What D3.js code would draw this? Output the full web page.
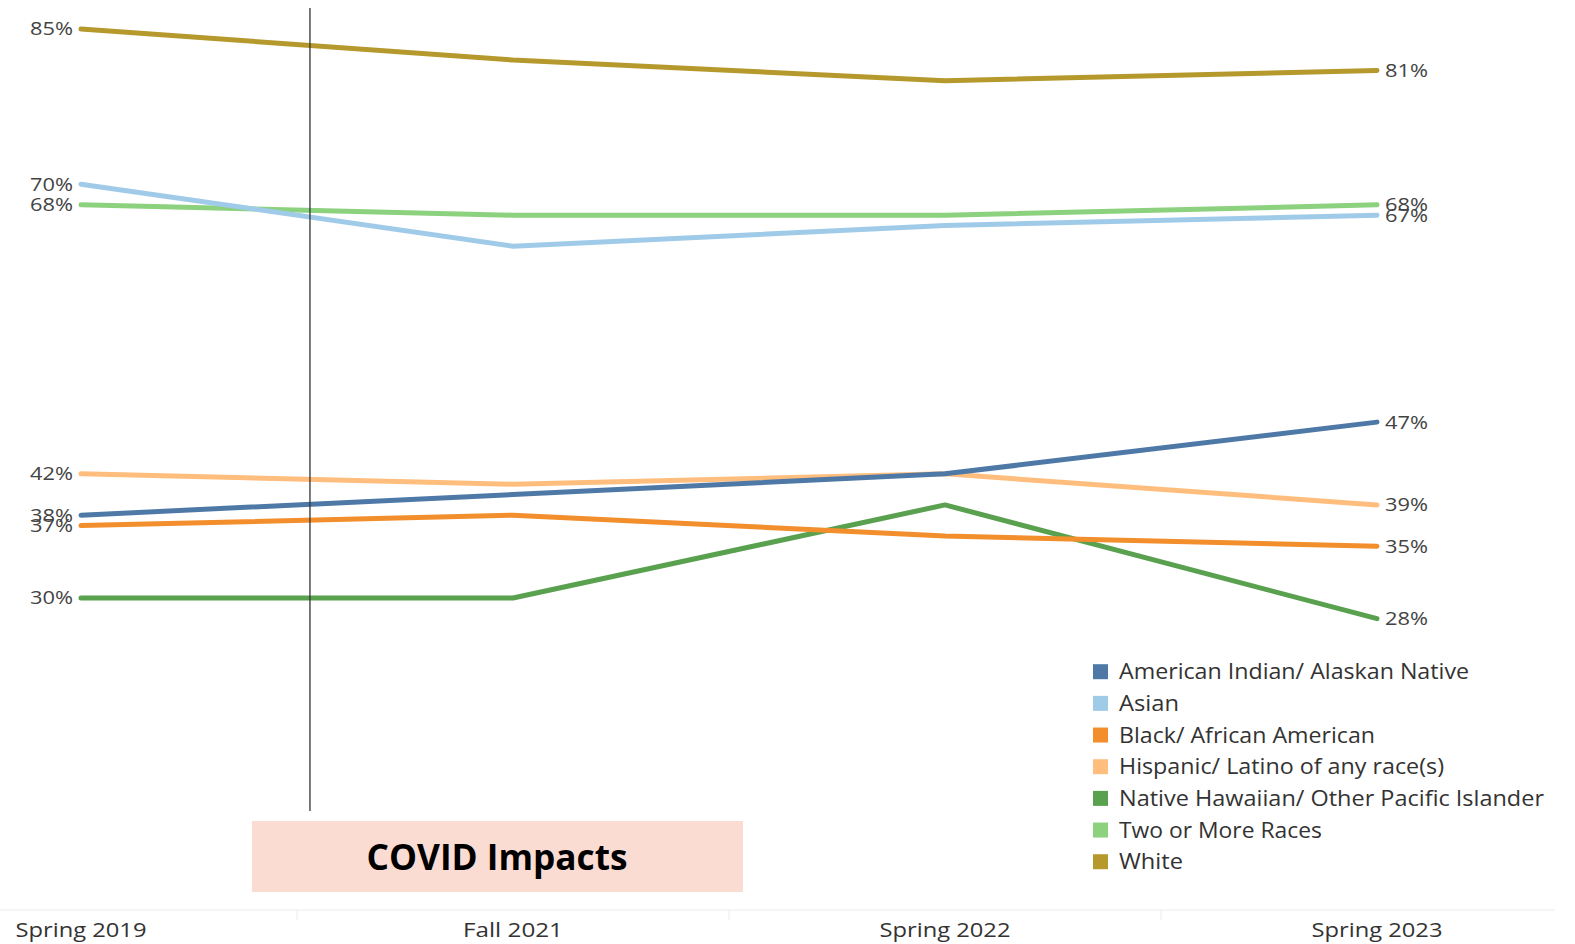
<!DOCTYPE html>
<html><head><meta charset="utf-8">
<script src="https://cdn.jsdelivr.net/npm/d3@7"></script>
<style>body{margin:0;background:#fff;}svg{display:block;}</style>
</head><body>
<svg id="c" width="1575" height="944"></svg>
<script>
const periods = ["Spring 2019", "Fall 2021", "Spring 2022", "Spring 2023"];
const seriesNames = ["American Indian/ Alaskan Native", "Asian", "Black/ African American", "Hispanic/ Latino of any race(s)", "Native Hawaiian/ Other Pacific Islander", "Two or More Races", "White"];
const amIndian = [38, 40, 42, 47];
const asian = [70, 64, 66, 67];
const black = [37, 38, 36, 35];
const hispanic = [42, 41, 42, 39];
const nhpi = [30, 30, 39, 28];
const twoMore = [68, 67, 67, 68];
const white = [85, 82, 80, 81];
const seriesValues = [amIndian, asian, black, hispanic, nhpi, twoMore, white];
const colors = ["#4e79a7", "#a0cbe8", "#f28e2b", "#ffbe7d", "#59a14f", "#8cd17d", "#b6992d"];
const covidLabel = "COVID Impacts";
const covidPeriodPos = 0.53; // position between Spring 2019 and Fall 2021

const svg = d3.select("#c");
const x = d3.scalePoint().domain(periods).range([81, 1377]);
const y = d3.scaleLinear().domain([85, 30]).range([29, 598]);
const step = x.step();

// bottom axis line & separators
svg.append("line").attr("x1", 0).attr("x2", 1555).attr("y1", 910).attr("y2", 910)
  .attr("stroke", "#ececec").attr("stroke-width", 1);
periods.slice(1).forEach(p => {
  const xs = x(p) - step / 2;
  svg.append("line").attr("x1", xs).attr("x2", xs).attr("y1", 910).attr("y2", 920)
    .attr("stroke", "#ececec").attr("stroke-width", 1);
});
const axisWidths = [131, 100, 131, 131];
svg.append("g").selectAll("text").data(periods).join("text")
  .attr("x", d => x(d)).attr("y", 937).attr("text-anchor", "middle")
  .attr("font-family", "'Open Sans', sans-serif").attr("font-size", 20)
  .attr("fill", "#333").attr("textLength", (d, i) => axisWidths[i]).attr("lengthAdjust", "spacingAndGlyphs")
  .text(d => d);

const line = d3.line().x((d, i) => x(periods[i])).y(d => y(d));
const order = d3.range(seriesNames.length).reverse();
const g = svg.append("g");
order.forEach(k => {
  g.append("path").datum(seriesValues[k]).attr("d", line)
    .attr("fill", "none").attr("stroke", colors[k]).attr("stroke-width", 5)
    .attr("stroke-linecap", "round").attr("stroke-linejoin", "round");
});

// end labels
const lblFont = "'Open Sans', sans-serif";
seriesValues.forEach((vals, k) => {
  svg.append("text").attr("x", 73).attr("y", y(vals[0])).attr("dy", "0.35em")
    .attr("text-anchor", "end").attr("font-family", lblFont).attr("font-size", 18.5)
    .attr("fill", "#444").attr("textLength", 43).attr("lengthAdjust", "spacingAndGlyphs").text(vals[0] + "%");
  svg.append("text").attr("x", 1385).attr("y", y(vals[3])).attr("dy", "0.35em")
    .attr("text-anchor", "start").attr("font-family", lblFont).attr("font-size", 18.5)
    .attr("fill", "#444").attr("textLength", 43).attr("lengthAdjust", "spacingAndGlyphs").text(vals[3] + "%");
});

// COVID vertical line
const cx = x(periods[0]) + covidPeriodPos * step;
svg.append("line").attr("x1", cx).attr("x2", cx).attr("y1", 8).attr("y2", 811)
  .attr("stroke", "#333").attr("stroke-width", 1.3);

// COVID box
svg.append("rect").attr("x", 252).attr("y", 821).attr("width", 491).attr("height", 71)
  .attr("fill", "#fadcd3");
svg.append("text").attr("x", 497).attr("y", 858).attr("dy", "0.35em").attr("text-anchor", "middle")
  .attr("font-family", "'Open Sans', sans-serif").attr("font-weight", "bold").attr("font-size", 35)
  .attr("fill", "#000").attr("textLength", 261).attr("lengthAdjust", "spacingAndGlyphs")
  .text(covidLabel);

// legend
const leg = svg.append("g");
const legWidths = [350, 60, 256, 325, 425, 203, 64];
seriesNames.forEach((n, k) => {
  const yy = 671.7 + k * 31.67;
  leg.append("rect").attr("x", 1093).attr("y", yy - 7.5).attr("width", 15).attr("height", 15).attr("fill", colors[k]);
  leg.append("text").attr("x", 1119).attr("y", yy).attr("dy", "0.35em")
    .attr("font-family", "'Open Sans', sans-serif").attr("font-size", 22).attr("fill", "#333")
    .attr("textLength", legWidths[k]).attr("lengthAdjust", "spacingAndGlyphs")
    .text(n);
});
</script>
</body></html>
